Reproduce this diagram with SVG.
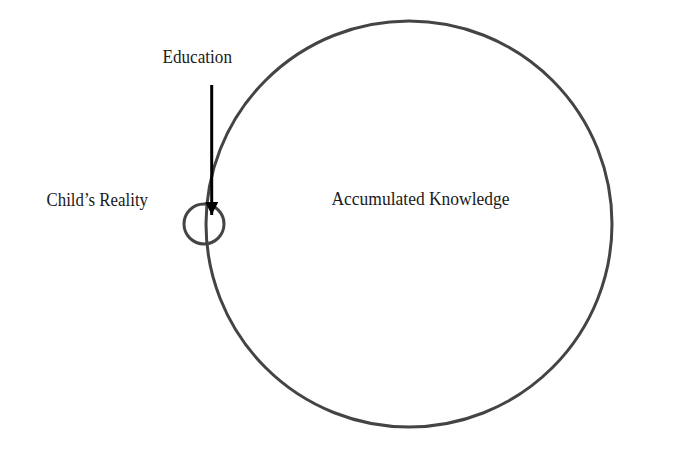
<svg xmlns="http://www.w3.org/2000/svg" width="688" height="452" viewBox="0 0 688 452">
<style>
.lbl{font-family:"Liberation Serif","DejaVu Serif",serif;font-size:18px;fill:#1a1a1a}
.ring{fill:none;stroke:#444;stroke-width:3}
.arrow{stroke:#000;stroke-width:3;fill:none}
</style>
<defs>
<marker id="ah" markerUnits="userSpaceOnUse" markerWidth="14" markerHeight="14" refX="13" refY="6.5" orient="auto">
<path d="M0,0 L13,6.5 L0,13 Z" fill="#000"/>
</marker>
</defs>
<rect width="688" height="452" fill="#fff"/>
<g id="knowledge">
<circle class="ring" cx="409" cy="224" r="203"/>
<text class="lbl" x="331.5" y="205" textLength="178" lengthAdjust="spacingAndGlyphs">Accumulated Knowledge</text>
</g>
<g id="reality">
<circle class="ring" cx="204" cy="224" r="20"/>
<text class="lbl" x="46.5" y="206" textLength="101.5" lengthAdjust="spacingAndGlyphs">Child’s Reality</text>
</g>
<g id="education">
<text class="lbl" x="162.5" y="63" textLength="69.5" lengthAdjust="spacingAndGlyphs">Education</text>
</g>
<g id="connectors">
<line class="arrow" x1="211.7" y1="85" x2="211.7" y2="215" marker-end="url(#ah)"/>
</g>
</svg>
